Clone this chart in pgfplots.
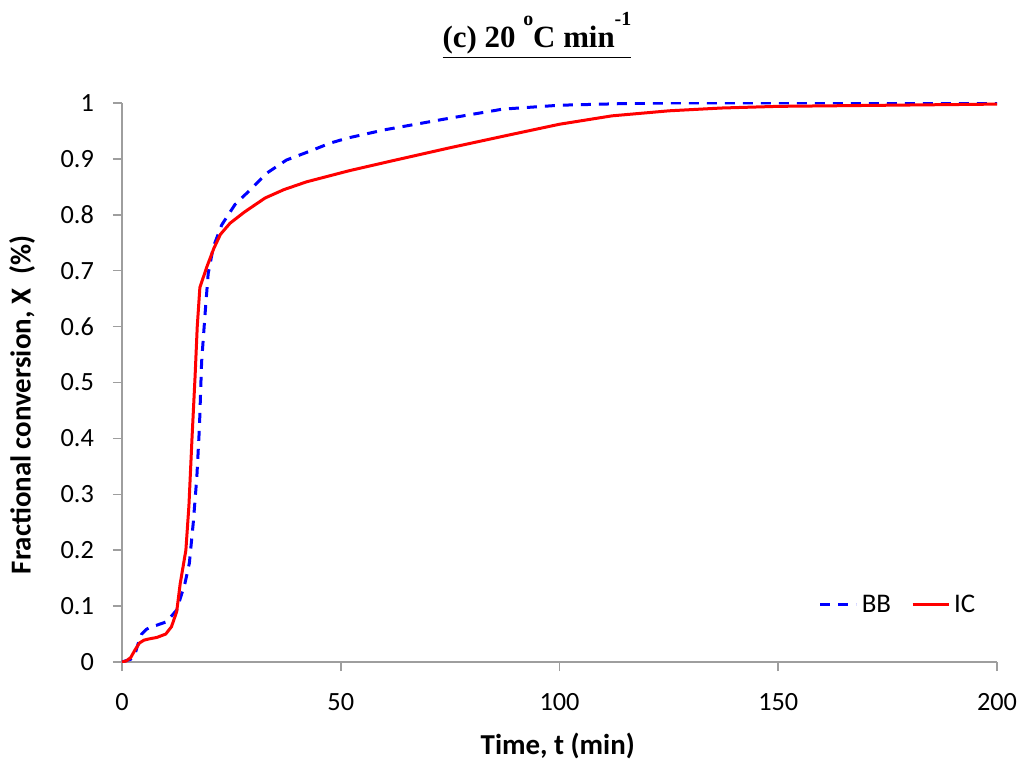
\documentclass[border=0pt]{standalone}
\usepackage{pgfplots}
\pgfplotsset{compat=1.18}
\usepackage{fontspec}
\setmainfont{Carlito}
\newfontfamily\titlefont{Liberation Serif}
\begin{document}
\begin{tikzpicture}
\begin{axis}[
scale only axis,width=437.5bp,height=279.5bp,
xmin=0,xmax=200,ymin=0,ymax=1,
axis lines*=left,
axis line style={draw=black!38,line width=0.8pt},
xtick={0,50,...,200},ytick={0,0.1,...,1},
tick style={draw=black!38,line width=0.8pt},
tick align=outside,major tick length=4.5bp,
/pgf/number format/assume math mode=true,
/pgf/number format/fixed,
tick label style={font=\fontsize{13.2}{15}\selectfont},
xticklabel style={yshift=-7.5bp},
yticklabel style={xshift=-6bp},
xlabel={\bfseries Time, t (min)},
ylabel={\bfseries Fractional conversion, X\hspace{0.5em}(\%)},
label style={font=\fontsize{14.5}{16}\selectfont},
xlabel style={at={(ticklabel cs:0.498)},yshift=-4.5bp},
ylabel style={at={(ticklabel cs:0.46)},yshift=6bp},
legend style={draw=none,fill=none,inner sep=0pt,at={(axis cs:196,0.102)},anchor=east,
  legend columns=2,font=\fontsize{13.5}{15}\selectfont,
  /tikz/every even column/.append style={column sep=8bp}},
legend image code/.code={\draw[#1] (0bp,0bp) -- (18bp,0bp);},
]
\addplot[blue,line width=1.5bp,dash pattern=on 5bp off 4bp] coordinates {
(0,0)(2,0.005)(3,0.015)(3.7,0.033)(4.5,0.05)(5.5,0.058)(6.4,0.062)(8,0.066)
(10.2,0.072)(12.5,0.093)(14.4,0.141)(15.4,0.177)(16.3,0.25)(17.1,0.33)
(17.7,0.42)(18.2,0.537)(19,0.624)(19.7,0.695)(20.9,0.743)(22.8,0.782)
(25.8,0.818)(29.6,0.847)(33,0.874)(37.6,0.898)(43,0.914)(47.5,0.928)
(51.4,0.937)(60,0.952)(75,0.973)(87,0.989)(100,0.996)(115,0.999)(125,1.0)
(150,1.0)(200,1.0)};
\addlegendentry{BB}
\addplot[red,line width=1.5bp] coordinates {
(0,0)(1,0.002)(2,0.008)(3,0.022)(4,0.034)(5,0.039)(6,0.041)(8,0.044)
(10,0.05)(11.3,0.063)(12.5,0.09)(13.3,0.14)(14.6,0.2)(15.3,0.28)(16,0.4)
(16.7,0.51)(17.2,0.6)(17.8,0.67)(19.4,0.707)(21,0.74)(22.5,0.765)
(24.7,0.785)(28,0.805)(32.7,0.83)(37,0.845)(42.2,0.859)(52,0.879)
(62,0.897)(75,0.92)(88,0.942)(100,0.962)(112,0.977)(125,0.986)(137,0.991)
(150,0.994)(175,0.996)(200,0.998)};
\addlegendentry{IC}
\end{axis}
\node[anchor=base] at (207.5bp,307bp) {\titlefont\bfseries\fontsize{15.5}{18}\selectfont\underline{(c) 20 \raisebox{0.72em}{\fontsize{10}{10}\selectfont o}C min\raisebox{0.72em}{\fontsize{10}{10}\selectfont -1}}};
\pgfresetboundingbox
\path[use as bounding box] (-61bp,-50bp) rectangle (452.5bp,331bp);
\end{tikzpicture}
\end{document}
